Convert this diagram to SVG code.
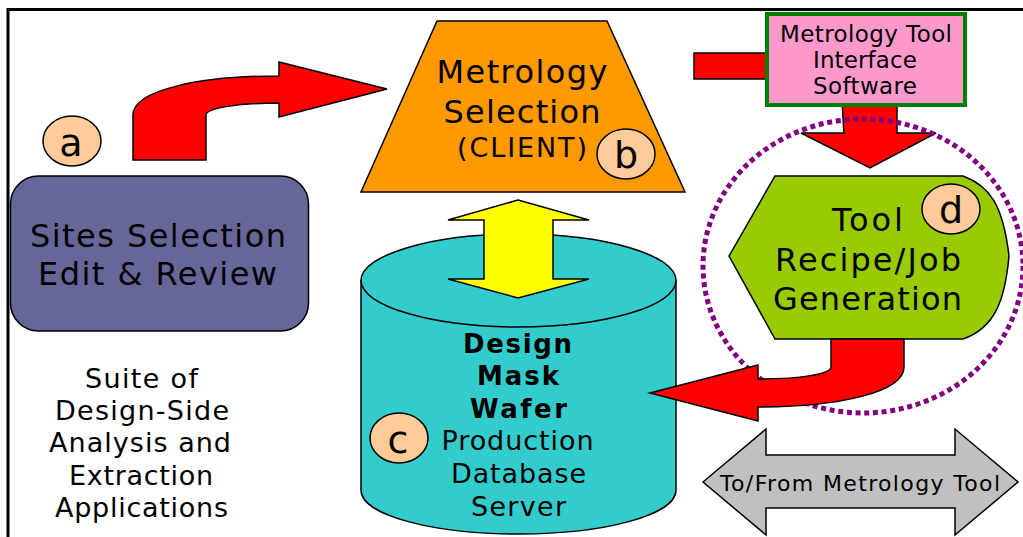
<svg xmlns="http://www.w3.org/2000/svg" width="1023" height="537" viewBox="0 0 1023 537">
<style>
text{font-family:"DejaVu Sans",Verdana,sans-serif;fill:#000;text-anchor:middle}
.s{stroke:#000;stroke-width:1.5}
.red{fill:#f00;stroke:#000;stroke-width:1.5}
.badge{fill:#fc9;stroke:#000;stroke-width:1.5}
.l{font-size:38px}
.m{font-size:32px}
.c{font-size:27px}
.n{font-size:27px}
.b{font-size:26px;font-weight:700}
.t{font-size:23px}
.g{font-size:22px}
</style>
<rect width="1023" height="537" fill="#fff"/>
<path d="M8 537V9.500H1023" fill="none" stroke="#000" stroke-width="3"/>
<g id="connectors">
<path class="red" d="M133 160V115C133 90 200 76 279 76V62L387 89L279 117V103C240 103 206 108 206 115V160Z"/>
<path class="red" d="M694 53H770V79H694Z"/>
<path class="red" d="M842 100Q843 120 844 133H801L870 168L936 133H897V100Z"/>
</g>
<g id="node-sites">
<rect class="s" x="10.500" y="176" width="298" height="155" rx="28" fill="#669"/>
<text class="m" x="158" y="247" textLength="256">Sites Selection</text>
<text class="m" x="157.500" y="285" textLength="239">Edit &amp; Review</text>
</g>
<g id="badge-a"><ellipse class="badge" cx="72" cy="141" rx="29" ry="25"/><text class="l" x="71" y="156">a</text></g>
<g id="node-metrology">
<path class="s" d="M437 21H607L685 192H361Z" fill="#f90"/>
<text class="m" x="522" y="83" textLength="171">Metrology</text>
<text class="m" x="522" y="122.500" textLength="157">Selection</text>
<text class="c" x="522" y="157" textLength="130">(CLIENT)</text>
</g>
<g id="badge-b"><ellipse class="badge" cx="626" cy="154" rx="29" ry="25"/><text class="l" x="626" y="168">b</text></g>
<g id="node-database">
<path class="s" d="M361 280.500V490C361 515 432 534 518.500 534S676 515 676 490V280.500C676 255 605 234 518.500 234S361 255 361 280.500Z" fill="#3cc"/>
<path class="s" d="M361 280.500C361 306 432 327 518.500 327S676 306 676 280.500" fill="none"/>
<text class="b" x="517.500" y="353" textLength="109">Design</text>
<text class="b" x="518" y="385" textLength="82">Mask</text>
<text class="b" x="518.500" y="418" textLength="97">Wafer</text>
<text class="n" x="517.500" y="450" textLength="152">Production</text>
<text class="n" x="518.500" y="483" textLength="135">Database</text>
<text class="n" x="518.500" y="516" textLength="95">Server</text>
</g>
<g id="badge-c"><ellipse class="badge" cx="399" cy="438" rx="29" ry="25"/><text class="l" x="398" y="453">c</text></g>
<g id="connector-yellow"><path class="s" fill="#ff0" d="M518 200L589 220H553V279H589L518 298L448 279H484V220H448Z"/></g>
<g id="node-interface">
<rect x="767" y="14" width="198" height="91" fill="#f9c" stroke="#008000" stroke-width="4"/>
<text class="t" x="866" y="42" textLength="172">Metrology Tool</text>
<text class="t" x="865" y="68" textLength="104">Interface</text>
<text class="t" x="865" y="94" textLength="104">Software</text>
</g>
<g id="node-recipe">
<path class="s" fill="#9c0" d="M729 256L775 176H963C990 186 1003 205 1009 256C1005 300 995 328 963 339H775Z"/>
<text class="m" x="867.500" y="231" textLength="71">Tool</text>
<text class="m" x="868" y="271" textLength="186">Recipe/Job</text>
<text class="m" x="867.500" y="310" textLength="189">Generation</text>
</g>
<g id="badge-d"><ellipse class="badge" cx="951" cy="209" rx="29" ry="25"/><text class="l" x="951" y="223">d</text></g>
<ellipse id="dotted-ring" cx="863" cy="266" rx="160" ry="147" fill="none" stroke="#800080" stroke-width="5" stroke-dasharray="5 3.700"/>
<g id="connector-curved"><path class="red" d="M650 393L758 365V379C800 379 831 374 831 367V339H904V367C904 392 840 407 758 407V421Z"/></g>
<g id="node-tofrom">
<path class="s" fill="#c0c0c0" d="M703 482L766 429V455H955V429L1018 482L955 535V508H766V535Z"/>
<text class="g" x="860" y="491" textLength="280">To/From Metrology Tool</text>
</g>
<g id="label-suite">
<text class="n" x="141.500" y="388" textLength="113">Suite of</text>
<text class="n" x="142" y="420" textLength="174">Design-Side</text>
<text class="n" x="140" y="452" textLength="182">Analysis and</text>
<text class="n" x="141" y="485" textLength="144">Extraction</text>
<text class="n" x="141.500" y="517" textLength="173">Applications</text>
</g>
</svg>
